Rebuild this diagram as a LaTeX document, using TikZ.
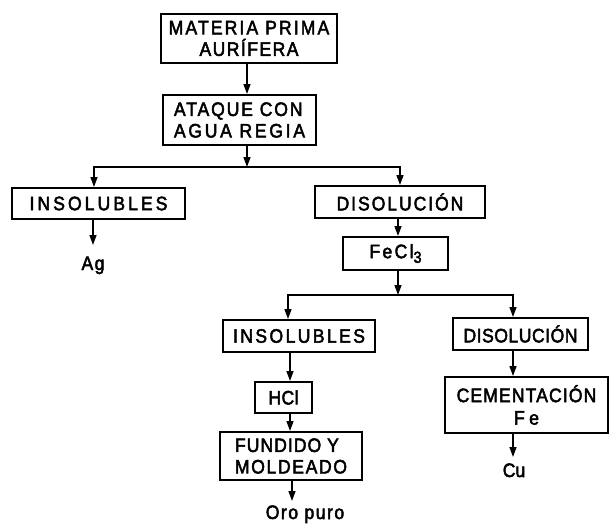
\documentclass[tikz,border=0pt]{standalone}
\usepackage{fontspec}
\setmainfont{Liberation Sans}[FakeStretch=0.9,FakeBold=2.5]
\usetikzlibrary{arrows.meta}
% tracked lettering: \trk{letter space}{text}
\newcommand\trk[2]{{\addfontfeature{LetterSpace=#1}#2}}
\begin{document}
\begin{tikzpicture}[x=1pt,y=-1pt,
  font=\fontsize{19.5}{21.5}\selectfont,
  box/.style={draw,line width=2pt,inner sep=0pt},
  flow/.style={line width=1.4pt},
  arrow/.style={flow,-{Triangle[length=10pt,width=7pt]}},
  label/.style={inner sep=0pt,anchor=base}]
\useasboundingbox (0,0) rectangle (610,525);

% process boxes
\node[box,minimum width=176pt,minimum height=49pt,align=center] (mat) at (249,38.5)
  {\trk{10.9}{MATERIA PRIMA}\\\trk{7.5}{AURÍFERA}};
\node[box,minimum width=153pt,minimum height=50pt,align=left] (ata) at (239.5,120)
  {\trk{9.7}{ATAQUE CON}\\\trk{14}{AGUA REGIA}};
\node[box,minimum width=173pt,minimum height=31pt] (insA) at (98.5,203.5)
  {\trk{15.8}{INSOLUBLES}};
\node[box,minimum width=170pt,minimum height=32pt] (disA) at (400,202)
  {\trk{10}{DISOLUCIÓN}};
\node[box,minimum width=105pt,minimum height=33pt] (fec) at (395.5,253.5)
  {\trk{12}{FeCl}\raisebox{-0.45ex}{\fontsize{16}{16}\selectfont 3}};
\node[box,minimum width=152pt,minimum height=32pt] (insB) at (299,336)
  {\trk{12.4}{INSOLUBLES}};
\node[box,minimum width=57pt,minimum height=31pt] (hcl) at (283.5,397.5)
  {\trk{2}{HCl}};
\node[box,minimum width=142pt,minimum height=48pt,align=left] (fun) at (291,456)
  {\trk{5.4}{FUNDIDO Y}\\\trk{8.5}{MOLDEADO}};
\node[box,minimum width=135pt,minimum height=32pt] (disB) at (520.5,334)
  {\trk{2.7}{DISOLUCIÓN}};
\node[box,minimum width=163pt,minimum height=56pt,align=center] (cem) at (526.5,405)
  {\trk{5.8}{CEMENTACIÓN}\\[1pt]\trk{23}{Fe}};

% products
\node[label] (ag) at (93,270) {\trk{7.7}{Ag}};
\node[label] (oro) at (305,519) {\trk{7.8}{Oro puro}};
\node[label] (cu) at (514,477) {Cu};

% junction points and arrow ends
\coordinate (sA) at (247,167);
\coordinate (lA) at (94,167);
\coordinate (rA) at (400,167);
\coordinate (sB) at (398,295);
\coordinate (lB) at (288,295);
\coordinate (rB) at (513,295);
\coordinate (colG) at (290,0);
\coordinate (agEnd) at (93,245);
\coordinate (oroEnd) at (292,501);
\coordinate (cuEnd) at (513,457);

% upper stage
\draw[arrow] (sA |- mat.south) -- (sA |- ata.north);
\draw[arrow] (sA |- ata.south) -- (sA);
\draw[arrow] (sA) -| (lA |- insA.north);
\draw[arrow] (sA) -| (rA |- disA.north);
\draw[arrow] (agEnd |- insA.south) -- (agEnd);
\draw[arrow] (sB |- disA.south) -- (sB |- fec.north);
\draw[arrow] (sB |- fec.south) -- (sB);

% lower stage
\draw[arrow] (sB) -| (lB |- insB.north);
\draw[arrow] (sB) -| (rB |- disB.north);
\draw[arrow] (colG |- insB.south) -- (colG |- hcl.north);
\draw[arrow] (colG |- hcl.south) -- (colG |- fun.north);
\draw[arrow] (oroEnd |- fun.south) -- (oroEnd);
\draw[arrow] (rB |- disB.south) -- (rB |- cem.north);
\draw[arrow] (cuEnd |- cem.south) -- (cuEnd);
\end{tikzpicture}
\end{document}
